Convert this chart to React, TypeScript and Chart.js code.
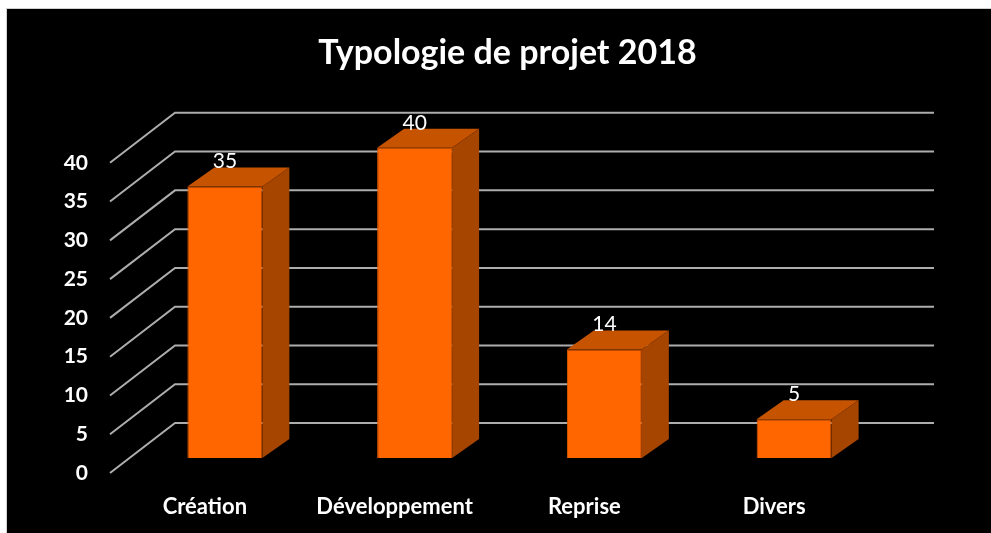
import React, { useEffect, useRef } from "react";
import { Chart, registerables } from "chart.js";

Chart.register(...registerables);

const TITLE = "Typologie de projet 2018";
const CATEGORIES = ["Création", "Développement", "Reprise", "Divers"];
const VALUES = [35, 40, 14, 5];
const Y_MIN = 0;
const Y_MAX = 40;
const Y_STEP = 5;

const FONT = "Lato, 'Open Sans', sans-serif";
const FRONT = "#ff6600";
const TOP = "#c65300";
const SIDE = "#a64500";
const GRID = "#adadad";

// 3D projection offsets (pixels)
const BAR_DX = 27;
const BAR_DY = -19;
const FLOOR_FRONT_DX = -20;
const FLOOR_FRONT_DY = 15;
const WALL_DX = 45;
const WALL_DY = -35;

const threeD = {
  id: "threeD",
  beforeDatasetsDraw(chart: any) {
    const { ctx, chartArea, scales } = chart;
    const y = scales.y;
    ctx.save();
    ctx.strokeStyle = GRID;
    ctx.lineWidth = 2;
    ctx.lineCap = "butt";
    for (let v = Y_MIN; v <= Y_MAX; v += Y_STEP) {
      const py = y.getPixelForValue(v);
      ctx.beginPath();
      ctx.moveTo(chartArea.left + FLOOR_FRONT_DX, py + FLOOR_FRONT_DY);
      ctx.lineTo(chartArea.left + WALL_DX, py + WALL_DY);
      ctx.lineTo(chartArea.right + WALL_DX, py + WALL_DY);
      ctx.stroke();
    }
    ctx.restore();
  },
  afterDatasetsDraw(chart: any) {
    const { ctx } = chart;
    const meta = chart.getDatasetMeta(0);
    ctx.save();
    meta.data.forEach((bar: any, i: number) => {
      const p = bar.getProps(["x", "y", "base", "width"], true);
      const x0 = p.x - p.width / 2;
      const x1 = p.x + p.width / 2;
      const yt = p.y;
      const yb = p.base;
      ctx.fillStyle = TOP;
      ctx.beginPath();
      ctx.moveTo(x0, yt);
      ctx.lineTo(x0 + BAR_DX, yt + BAR_DY);
      ctx.lineTo(x1 + BAR_DX, yt + BAR_DY);
      ctx.lineTo(x1, yt);
      ctx.closePath();
      ctx.fill();
      ctx.fillStyle = SIDE;
      ctx.beginPath();
      ctx.moveTo(x1, yt);
      ctx.lineTo(x1 + BAR_DX, yt + BAR_DY);
      ctx.lineTo(x1 + BAR_DX, yb + BAR_DY);
      ctx.lineTo(x1, yb);
      ctx.closePath();
      ctx.fill();
      ctx.fillStyle = "#ffffff";
      ctx.font = `400 21px ${FONT}`;
      ctx.textAlign = "center";
      ctx.textBaseline = "middle";
      ctx.fillText(String(VALUES[i]), p.x, yt - 25);
    });
    ctx.restore();
  },
};

export default function App() {
  const ref = useRef<HTMLCanvasElement>(null);
  useEffect(() => {
    if (!ref.current) return;
    const chart = new Chart(ref.current, {
      type: "bar",
      data: {
        labels: CATEGORIES,
        datasets: [
          {
            data: VALUES,
            backgroundColor: FRONT,
            borderColor: "#e05a00",
            borderWidth: 1,
            categoryPercentage: 1,
            barPercentage: 0.395,
          },
        ],
      },
      options: {
        animation: false,
        responsive: false,
        devicePixelRatio: 1,
        layout: { padding: { left: 24, right: 0, top: 0, bottom: 0 } },
        plugins: {
          legend: { display: false },
          tooltip: { enabled: false },
          title: {
            display: true,
            text: TITLE,
            color: "#ffffff",
            font: { family: FONT, size: 34, weight: "bold" },
            padding: { top: 33, bottom: 74 },
          },
        },
        scales: {
          x: {
            grid: { display: false, drawTicks: false },
            border: { display: false },
            ticks: {
              color: "#ffffff",
              font: { family: FONT, size: 22, weight: "bold" },
              labelOffset: FLOOR_FRONT_DX,
              padding: 36,
              maxRotation: 0,
            },
            afterFit: (s: any) => {
              s.height = 75;
            },
          },
          y: {
            min: Y_MIN,
            max: Y_MAX,
            grid: { display: false, drawTicks: false },
            border: { display: false },
            ticks: {
              stepSize: Y_STEP,
              color: "#ffffff",
              font: { family: FONT, size: 21, weight: "bold" },
              labelOffset: FLOOR_FRONT_DY,
              padding: 42,
            },
            afterFit: (s: any) => {
              s.width = 106;
            },
          },
          y2: {
            position: "right",
            min: Y_MIN,
            max: Y_MAX,
            grid: { display: false, drawTicks: false },
            border: { display: false },
            ticks: { display: false },
            afterFit: (s: any) => {
              s.width = 102;
            },
          },
        },
      },
      plugins: [threeD],
    });
    return () => chart.destroy();
  }, []);
  return (
    <div style={{ position: "absolute", left: 0, top: 0, width: 991, height: 533, overflow: "hidden" }}>
      <div
        style={{
          position: "absolute",
          left: 6,
          top: 8,
          right: 0,
          bottom: 0,
          background: "#000",
          borderLeft: "1px solid #d0d0d0",
          borderTop: "1px solid #d0d0d0",
        }}
      />
      <canvas ref={ref} width={991} height={533} style={{ position: "absolute", left: 0, top: 0 }} />
    </div>
  );
}
